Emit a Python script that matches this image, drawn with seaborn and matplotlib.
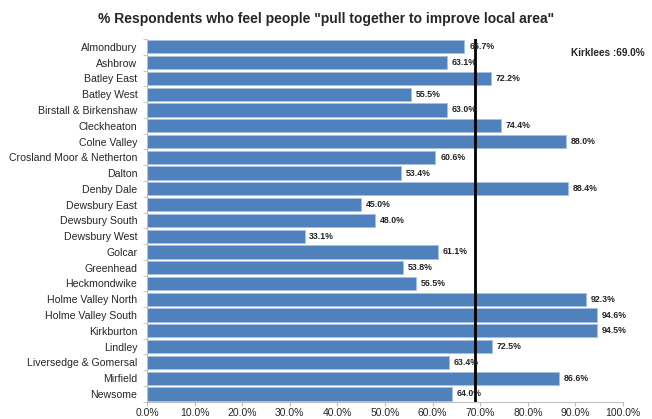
import matplotlib
matplotlib.use("Agg")
import matplotlib.pyplot as plt
import seaborn as sns
import pandas as pd

wards = ["Almondbury", "Ashbrow", "Batley East", "Batley West", "Birstall & Birkenshaw",
         "Cleckheaton", "Colne Valley", "Crosland Moor & Netherton", "Dalton", "Denby Dale",
         "Dewsbury East", "Dewsbury South", "Dewsbury West", "Golcar", "Greenhead",
         "Heckmondwike", "Holme Valley North", "Holme Valley South", "Kirkburton", "Lindley",
         "Liversedge & Gomersal", "Mirfield", "Newsome"]
pct = [66.7, 63.1, 72.2, 55.5, 63.0, 74.4, 88.0, 60.6, 53.4, 88.4, 45.0, 48.0, 33.1,
       61.1, 53.8, 56.5, 92.3, 94.6, 94.5, 72.5, 63.4, 86.6, 64.0]
kirklees = 69.0
xticks = [0, 10, 20, 30, 40, 50, 60, 70, 80, 90, 100]

df = pd.DataFrame({"ward": wards, "pct": pct})

sns.set_style("white")
plt.rcParams['font.family'] = ['Liberation Sans', 'DejaVu Sans']

fig = plt.figure(figsize=(6.52, 4.19), dpi=100)
ax = fig.add_axes([0.2255, 0.041, 0.730, 0.866])

sns.barplot(data=df, y="ward", x="pct", orient="h", color="#4F81BD", saturation=1,
            width=0.84, edgecolor="#A9C0E0", linewidth=0.6, ax=ax)

# data labels
for bar, v in zip(ax.patches, pct):
    ax.text(bar.get_width() + 1.0, bar.get_y() + bar.get_height() / 2, f"{v:.1f}%",
            va="center", ha="left", fontsize=6.3, fontweight="bold", color="#222222")

ax.axvline(kirklees, color="black", linewidth=2, ymin=0, ymax=1.0)
ax.text(0.89, 0.96, f"Kirklees :{kirklees:.1f}%", transform=ax.transAxes,
        fontsize=7.2, fontweight="bold", ha="left", va="center")

ax.set_xlim(0, 100)
ax.set_ylim(len(wards) - 0.5, -0.5)
ax.set_xticks(xticks)
ax.set_xticklabels([f"{t:.1f}%" for t in xticks], fontsize=7.5)
ax.tick_params(axis="y", labelsize=7.6, length=0, pad=7)
ax.set_xlabel("")
ax.set_ylabel("")

for s in ["top", "right"]:
    ax.spines[s].set_visible(False)
for s in ["left", "bottom"]:
    ax.spines[s].set_color("#BFBFBF")
    ax.spines[s].set_linewidth(0.8)
ax.tick_params(axis="x", bottom=True, length=3, color="#BFBFBF", pad=1.5)
# small ticks between categories on the y axis
ax.set_yticks([i + 0.5 for i in range(-1, len(wards))], minor=True)
ax.tick_params(axis="y", which="minor", left=True, length=3, color="#BFBFBF")

fig.suptitle('% Respondents who feel people "pull together to improve local area"',
             x=0.5, y=0.972, fontsize=10, fontweight="bold")

fig.savefig("out.png", dpi=100)
